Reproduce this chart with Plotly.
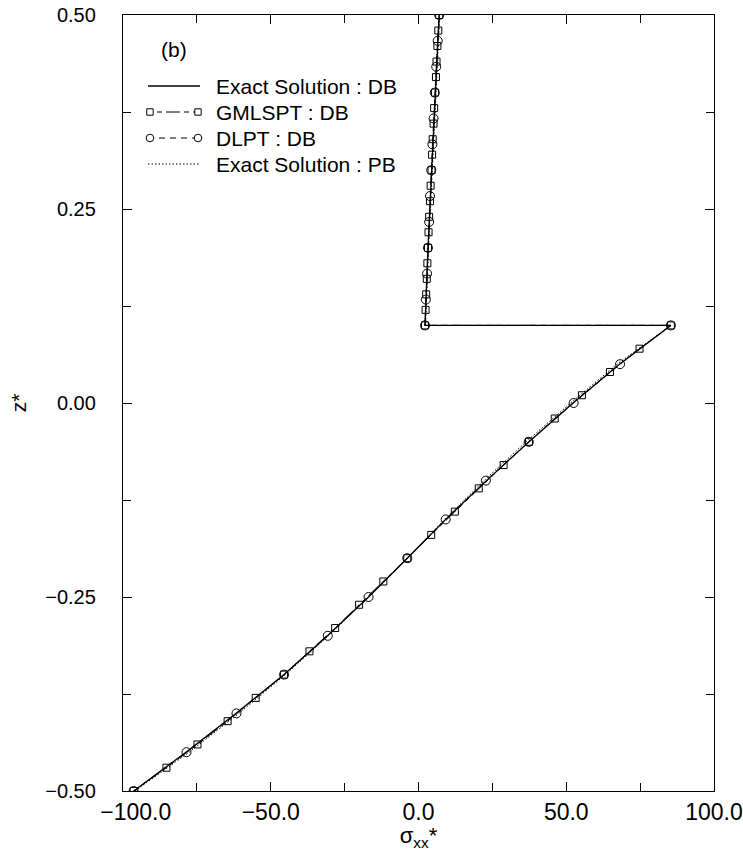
import plotly.graph_objects as go

# Through-thickness distribution of sigma_xx* versus z* for a bi-layer (DB) plate.
# Lower layer spans z* = -0.5 .. 0.1, upper layer z* = 0.1 .. 0.5.

# Exact solution, DB
z_exact_lower = [-0.50, -0.45, -0.40, -0.35, -0.30, -0.25, -0.20, -0.15, -0.10, -0.05, 0.00, 0.05, 0.10]
x_exact_lower = [-96.4, -78.7, -61.8, -45.5, -30.8, -16.9, -3.8, 9.2, 23.0, 37.4, 52.3, 68.0, 85.4]
z_exact_upper = [0.10, 0.20, 0.30, 0.40, 0.50]
x_exact_upper = [2.2, 3.2, 4.4, 5.6, 7.0]

# Exact solution, PB
z_pb_lower = [-0.50, -0.45, -0.40, -0.35, -0.30, -0.25, -0.20, -0.15, -0.10, -0.05, 0.00, 0.05, 0.10]
x_pb_lower = [-96.0, -77.6, -60.8, -45.0, -30.5, -16.9, -3.9, 8.9, 22.2, 36.4, 51.5, 67.2, 85.4]
z_pb_upper = [0.10, 0.20, 0.30, 0.40, 0.50]
x_pb_upper = [2.4, 3.4, 4.6, 5.8, 7.2]

# GMLSPT, DB
z_gml_lower = [-0.50, -0.47, -0.44, -0.41, -0.38, -0.35, -0.32, -0.29, -0.26, -0.23, -0.20,
               -0.17, -0.14, -0.11, -0.08, -0.05, -0.02, 0.01, 0.04, 0.07, 0.10]
x_gml_lower = [-96.4, -85.3, -74.8, -64.6, -55.1, -45.5, -36.9, -28.2, -20.1, -11.9, -3.8,
               4.3, 12.3, 20.4, 28.8, 37.4, 46.1, 55.3, 64.8, 74.8, 85.4]
z_gml_upper = [0.10, 0.12, 0.14, 0.16, 0.18, 0.20, 0.22, 0.24, 0.26, 0.28, 0.30,
               0.32, 0.34, 0.36, 0.38, 0.40, 0.42, 0.44, 0.46, 0.48, 0.50]
x_gml_upper = [2.2, 2.4, 2.6, 2.8, 3.0, 3.2, 3.4, 3.6, 3.9, 4.1, 4.4,
               4.6, 4.8, 5.1, 5.3, 5.6, 5.9, 6.1, 6.4, 6.7, 7.0]

# DLPT, DB
z_dlpt_lower = [-0.50, -0.45, -0.40, -0.35, -0.30, -0.25, -0.20, -0.15, -0.10, -0.05, 0.00, 0.05, 0.10]
x_dlpt_lower = [-96.4, -78.5, -61.6, -45.5, -30.7, -16.9, -3.8, 9.2, 22.8, 37.3, 52.5, 68.2, 85.4]
z_dlpt_upper = [0.1000, 0.1333, 0.1667, 0.2000, 0.2333, 0.2667, 0.3000,
                0.3333, 0.3667, 0.4000, 0.4333, 0.4667, 0.5000]
x_dlpt_upper = [2.2, 2.5, 2.9, 3.2, 3.6, 3.9, 4.3, 4.7, 5.1, 5.5, 6.0, 6.5, 7.0]

x_ticks = [-100, -50, 0, 50, 100]
x_tick_labels = ["\u00a0\u00a0\u00a0\u00a0\u2212100.0", "\u221250.0", "0.0", "50.0", "100.0"]
y_ticks = [-0.50, -0.25, 0.00, 0.25, 0.50]

FONT = "Liberation Sans"
INK = "black"

# Plot-area geometry in pixels (used for the hand-drawn key)
W, H = 743, 851
M_L, M_R, M_T, M_B = 123, 29, 15, 60
PW, PH = W - M_L - M_R, H - M_T - M_B


def px(x):
    return (x - M_L) / PW


def py(y):
    return (H - M_B - y) / PH


fig = go.Figure()

LINE_SOLID = dict(color=INK, width=1.3)
LINE_PB = dict(color=INK, width=1, dash="1.5px,2px")
LINE_GML = dict(color=INK, width=1, dash="5px,4px,5px,4px,14px,4px")
LINE_DLPT = dict(color=INK, width=1, dash="6px,5px")

fig.add_trace(go.Scatter(
    x=x_exact_lower + x_exact_upper, y=z_exact_lower + z_exact_upper,
    mode="lines", name="Exact Solution : DB", line=LINE_SOLID, showlegend=False,
))
fig.add_trace(go.Scatter(
    x=x_pb_lower + x_pb_upper, y=z_pb_lower + z_pb_upper,
    mode="lines", name="Exact Solution : PB", line=LINE_PB, showlegend=False,
))
fig.add_trace(go.Scatter(
    x=x_gml_lower + x_gml_upper, y=z_gml_lower + z_gml_upper,
    mode="lines+markers", name="GMLSPT : DB", line=LINE_GML, showlegend=False,
    marker=dict(symbol="square-open", size=7, color=INK, line=dict(width=1, color=INK)),
))
fig.add_trace(go.Scatter(
    x=x_dlpt_lower + x_dlpt_upper, y=z_dlpt_lower + z_dlpt_upper,
    mode="lines+markers", name="DLPT : DB", line=LINE_DLPT, showlegend=False,
    marker=dict(symbol="circle-open", size=9, color=INK, line=dict(width=1, color=INK)),
))

# Key: sample line with end symbols, then the label
key_entries = [
    ("Exact Solution : DB", LINE_SOLID, None),
    ("GMLSPT : DB", LINE_GML, "rect"),
    ("DLPT : DB", LINE_DLPT, "circle"),
    ("Exact Solution : PB", LINE_PB, None),
]
KEY_X0, KEY_X1, KEY_TEXT_X = 148, 200, 214
KEY_Y0, KEY_DY = 86, 26

shapes = []
annotations = []
for i, (label, line, sym) in enumerate(key_entries):
    yc = KEY_Y0 + i * KEY_DY
    shapes.append(dict(type="line", xref="paper", yref="paper",
                       x0=px(KEY_X0), x1=px(KEY_X1), y0=py(yc), y1=py(yc), line=line))
    if sym:
        r = 3.2 if sym == "rect" else 3.8
        for xc in (KEY_X0 + 2, KEY_X1 - 2):
            shapes.append(dict(type=sym, xref="paper", yref="paper",
                               x0=px(xc - r), x1=px(xc + r), y0=py(yc + r), y1=py(yc - r),
                               fillcolor="white", line=dict(color=INK, width=1)))
    annotations.append(dict(x=px(KEY_TEXT_X), y=py(yc), xref="paper", yref="paper",
                            xanchor="left", yanchor="middle", text=label, showarrow=False,
                            font=dict(family=FONT, size=21, color=INK)))

annotations.append(dict(x=px(159), y=py(50), xref="paper", yref="paper",
                        xanchor="left", yanchor="middle", text="(b)", showarrow=False,
                        font=dict(family=FONT, size=21, color=INK)))

axis_common = dict(
    showline=True, linecolor=INK, linewidth=1.3, mirror="allticks",
    ticks="inside", tickcolor=INK, tickwidth=1, ticklen=9,
    showgrid=False, zeroline=False,
    minor=dict(ticks="inside", ticklen=8, tickcolor=INK, tickwidth=1, showgrid=False),
)

fig.update_xaxes(
    range=[-100, 100], tickvals=x_ticks, ticktext=x_tick_labels,
    minor_dtick=25,
    tickfont=dict(family=FONT, size=23, color=INK),
    title=dict(text="σ<sub>xx</sub>*", font=dict(family=FONT, size=22, color=INK), standoff=3),
    **axis_common,
)
fig.update_yaxes(
    range=[-0.5, 0.5], tickvals=y_ticks, tickformat=".2f",
    minor_dtick=0.125, ticklabelstandoff=22,
    tickfont=dict(family=FONT, size=20, color=INK),
    title=dict(text="z*", font=dict(family=FONT, size=21, color=INK), standoff=12),
    **axis_common,
)

fig.update_layout(
    width=W, height=H,
    margin=dict(l=M_L, r=M_R, t=M_T, b=M_B, autoexpand=False),
    paper_bgcolor="white", plot_bgcolor="white",
    font=dict(family=FONT, color=INK),
    showlegend=False,
    shapes=shapes,
    annotations=annotations,
)

fig.write_html("out.html")
